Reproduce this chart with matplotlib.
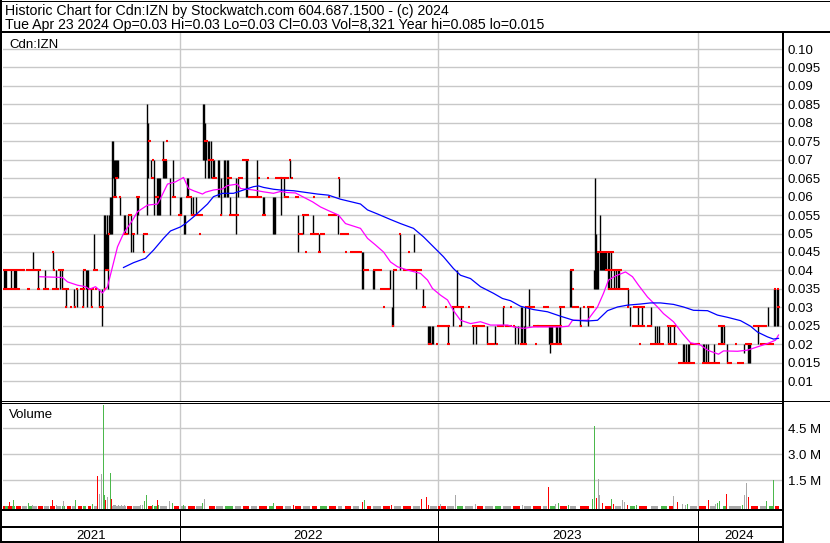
import matplotlib
matplotlib.use("Agg")
import matplotlib.pyplot as plt

plt.rcParams['font.family'] = ['Liberation Sans', 'DejaVu Sans']

# ---------------- data (x = trading-session position, left to right) ----------------
TITLE_1 = "Historic Chart for Cdn:IZN by Stockwatch.com 604.687.1500 - (c) 2024"
TITLE_2 = "Tue Apr 23 2024 Op=0.03 Hi=0.03 Lo=0.03 Cl=0.03 Vol=8,321 Year hi=0.085 lo=0.015"
SYMBOL = "Cdn:IZN"

YEAR_LABELS = ["2021", "2022", "2023", "2024"]
YEAR_BOUNDS = [3, 179, 437, 697, 782]          # session positions of year starts / chart end

PRICE_TICKS = [0.01, 0.015, 0.02, 0.025, 0.03, 0.035, 0.04, 0.045, 0.05, 0.055,
               0.06, 0.065, 0.07, 0.075, 0.08, 0.085, 0.09, 0.095, 0.10]
PRICE_TICK_LABELS = ["0.01", "0.015", "0.02", "0.025", "0.03", "0.035", "0.04", "0.045",
                     "0.05", "0.055", "0.06", "0.065", "0.07", "0.075", "0.08", "0.085",
                     "0.09", "0.095", "0.10"]
VOL_TICKS = [1.5, 3.0, 4.5]
VOL_TICK_LABELS = ["1.5 M", "3.0 M", "4.5 M"]

# daily high-low ranges: (session, low, high)
PRICE_BARS = [
    (3, .035, .04), (4, .035, .04), (5, .035, .04), (10, .035, .04), (13, .035, .04), (14, .035, .04),
    (15, .035, .04), (32, .04, .045), (37, .035, .04), (44, .035, .04), (52, .04, .045), (55, .035, .04),
    (59, .035, .04), (61, .035, .04), (65, .03, .035), (73, .03, .035), (76, .03, .035), (82, .03, .04),
    (85, .035, .04), (86, .03, .04), (87, .035, .04), (90, .03, .035), (93, .04, .05), (98, .03, .035),
    (101, .025, .035), (103, .035, .055), (104, .04, .055), (105, .04, .05), (106, .04, .055),
    (107, .035, .05), (108, .05, .055), (109, .05, .06), (110, .05, .06), (111, .05, .075),
    (112, .065, .075), (113, .06, .07), (114, .06, .07), (115, .065, .07), (116, .065, .07),
    (117, .065, .07), (119, .055, .06), (123, .05, .055), (124, .05, .055), (127, .05, .055),
    (130, .045, .055), (132, .045, .05), (136, .05, .06), (137, .055, .06), (142, .045, .05),
    (146, .055, .085), (147, .065, .08), (150, .065, .07), (153, .055, .07), (156, .055, .065),
    (157, .055, .065), (158, .055, .065), (159, .055, .065), (162, .065, .075), (163, .065, .07),
    (164, .065, .07), (165, .065, .07), (169, .055, .065), (172, .06, .07), (179, .055, .06),
    (180, .055, .06), (183, .05, .055), (184, .05, .055), (186, .06, .065), (187, .06, .065),
    (190, .055, .06), (192, .055, .06), (195, .055, .06), (202, .07, .085), (203, .07, .085),
    (204, .065, .08), (205, .07, .075), (207, .065, .075), (208, .065, .075), (210, .065, .075),
    (212, .065, .07), (213, .065, .07), (217, .06, .07), (218, .06, .07), (220, .055, .065),
    (223, .06, .07), (224, .06, .07), (226, .06, .07), (227, .06, .07), (229, .055, .06),
    (235, .05, .065), (237, .06, .065), (245, .06, .07), (246, .06, .07), (256, .06, .07),
    (262, .055, .06), (263, .055, .06), (272, .05, .06), (273, .05, .06), (274, .05, .06),
    (280, .055, .065), (283, .06, .065), (289, .065, .07), (297, .045, .055), (302, .05, .055),
    (312, .05, .055), (318, .045, .05), (337, .05, .055), (338, .06, .065), (361, .035, .045),
    (362, .035, .045), (372, .035, .04), (373, .035, .04), (389, .035, .04), (391, .025, .03),
    (392, .025, .04), (399, .04, .05), (413, .045, .05), (415, .035, .04), (422, .03, .035),
    (427, .02, .025), (428, .02, .025), (429, .02, .025), (431, .02, .025), (432, .02, .025),
    (447, .02, .025), (452, .025, .03), (456, .03, .04), (460, .025, .03), (472, .02, .025),
    (475, .02, .025), (486, .02, .025), (494, .02, .025), (502, .025, .03), (514, .02, .025),
    (517, .02, .025), (520, .02, .03), (521, .02, .03), (523, .02, .025), (524, .02, .03),
    (528, .025, .035), (548, .02, .025), (549, .0175, .025), (550, .02, .025), (551, .02, .025),
    (555, .02, .025), (556, .02, .025), (558, .02, .025), (559, .02, .03), (569, .03, .04),
    (570, .03, .04), (579, .025, .03), (587, .025, .03), (593, .035, .04), (594, .035, .065),
    (595, .035, .05), (596, .035, .045), (597, .035, .045), (599, .04, .055), (600, .04, .045),
    (601, .04, .045), (602, .04, .045), (603, .04, .045), (604, .04, .045), (605, .04, .045),
    (607, .035, .045), (608, .035, .045), (610, .035, .045), (613, .035, .04), (615, .035, .04),
    (617, .035, .04), (618, .035, .04), (627, .03, .035), (629, .025, .03), (637, .025, .03),
    (641, .025, .03), (650, .025, .03), (654, .02, .025), (656, .02, .025), (658, .02, .025),
    (667, .02, .025), (669, .02, .025), (673, .02, .025), (682, .015, .02), (683, .015, .02),
    (685, .015, .02), (687, .015, .02), (688, .015, .02), (702, .015, .02), (703, .015, .02),
    (705, .015, .02), (707, .015, .02), (713, .015, .02), (720, .02, .025), (721, .02, .025),
    (723, .02, .025), (726, .015, .02), (743, .0175, .02), (747, .015, .02), (748, .015, .02),
    (749, .015, .02), (757, .02, .025), (767, .025, .03), (773, .025, .035), (774, .025, .035),
    (776, .025, .035), (777, .025, .035),
]

# open/close tick runs: (first session, last session, price)
TICK_RUNS = [
    (2, 22, .04), (23, 23, .04), (26, 27, .04), (29, 37, .04), (39, 39, .04), (53, 53, .04), (58, 62, .04),
    (3, 15, .035), (17, 18, .035), (27, 28, .035), (37, 38, .035), (43, 47, .035), (52, 57, .035),
    (62, 67, .035), (76, 76, .035), (80, 83, .035), (88, 92, .035), (95, 95, .035),
    (65, 65, .03), (70, 70, .03), (74, 74, .03), (82, 82, .03), (91, 91, .03), (99, 102, .03),
    (83, 84, .04), (93, 96, .04), (52, 52, .045),
    (105, 107, .04), (104, 104, .035), (108, 108, .05), (113, 115, .06), (119, 119, .06),
    (115, 116, .065), (123, 126, .05), (128, 130, .055), (132, 133, .05), (136, 138, .06),
    (143, 143, .045), (143, 146, .05), (148, 149, .075), (152, 152, .07), (151, 152, .065),
    (155, 157, .06), (166, 166, .075), (162, 165, .07), (172, 174, .06), (178, 180, .055),
    (186, 190, .06), (191, 201, .055), (199, 199, .05), (204, 206, .075), (208, 212, .07),
    (212, 215, .065), (220, 220, .055), (227, 230, .065), (229, 237, .055), (238, 241, .065),
    (242, 247, .07), (248, 253, .06), (255, 260, .06), (258, 258, .065), (262, 264, .055),
    (267, 267, .065), (275, 280, .065),
    (280, 285, .065), (284, 287, .06), (287, 287, .065), (289, 289, .07), (291, 291, .065),
    (295, 297, .06), (298, 301, .05), (302, 307, .055), (305, 305, .045), (310, 317, .05),
    (313, 313, .06), (318, 319, .045), (320, 323, .05), (328, 328, .06), (328, 335, .055),
    (338, 338, .065), (340, 347, .05), (345, 345, .045), (350, 360, .045), (363, 367, .04),
    (373, 378, .04), (380, 388, .035), (380, 380, .04), (383, 383, .03), (392, 392, .025),
    (393, 395, .04), (399, 399, .05), (403, 420, .04), (408, 408, .045), (422, 424, .03),
    (428, 430, .02), (436, 436, .02), (437, 447, .025), (445, 445, .03), (447, 448, .02),
    (448, 448, .025), (452, 462, .03), (459, 459, .025), (468, 468, .03), (472, 483, .025),
    (487, 493, .02), (496, 496, .02), (497, 502, .025), (503, 503, .03), (505, 510, .025),
    (510, 510, .03), (513, 513, .025), (520, 525, .02), (525, 533, .03), (535, 535, .02),
    (533, 537, .025), (543, 547, .03), (537, 560, .025), (557, 560, .02),
    (550, 558, .02), (559, 563, .03), (570, 572, .04), (572, 572, .035), (572, 577, .03),
    (580, 580, .025), (583, 583, .03), (587, 592, .03), (597, 612, .045), (605, 620, .04),
    (608, 627, .035), (627, 627, .03), (632, 643, .025), (633, 643, .03), (639, 639, .02),
    (647, 650, .025), (650, 662, .02), (667, 674, .025), (668, 675, .02), (678, 693, .015),
    (690, 698, .02), (702, 718, .015), (718, 723, .025), (718, 723, .02), (727, 730, .015),
    (735, 735, .02), (737, 742, .015), (745, 750, .02), (753, 765, .025), (760, 772, .02),
    (774, 774, .035), (777, 777, .035), (777, 778, .03),
]

# short moving average (magenta) read at sessions
MA_SHORT_X = [39, 62, 67, 77, 85, 89, 95, 102, 107, 112, 117, 123, 132, 137, 147, 157, 160, 167,
              175, 183, 188, 193, 202, 205, 213, 222, 227, 237, 240, 253, 263, 273, 280, 287,
              295, 302, 312, 320, 328, 338, 345, 360, 367, 375, 383, 390, 397, 407, 420, 427,
              432, 440, 447, 453, 460, 470, 480, 490, 507, 513, 523, 533, 547, 560, 568, 572,
              587, 597, 603, 608, 615, 625, 632, 638, 647, 657, 663, 673, 682, 690, 700, 707,
              718, 723, 737, 747, 757, 767, 775, 778]
MA_SHORT_Y = [.0383, .0381, .0369, .036, .0356, .0349, .0356, .0339, .0356, .041, .0464, .050,
              .0536, .0559, .0577, .058, .0595, .0634, .064, .0652, .0622, .0616, .0607, .0612,
              .0618, .0621, .063, .0634, .0622, .0618, .0613, .0609, .0614, .0611, .061, .060,
              .0586, .0572, .0562, .055, .0527, .0514, .0487, .0469, .045, .0423, .041, .0401,
              .0392, .0374, .0351, .0333, .032, .0291, .0265, .0256, .0261, .0252, .0252, .0247,
              .0243, .0247, .0247, .0247, .0249, .0265, .0265, .0301, .0338, .0374, .0385, .0396,
              .0383, .036, .0328, .0301, .0283, .0261, .0229, .0204, .0198, .0184, .0173, .0182,
              .0181, .0184, .0193, .0202, .0211, .0225]

# long moving average (blue)
MA_LONG_X = [123, 133, 145, 153, 163, 170, 180, 185, 193, 207, 213, 222, 233, 243, 253, 258, 263,
             273, 280, 293, 317, 328, 340, 360, 367, 377, 390, 400, 413, 423, 433, 443, 453, 460,
             470, 480, 493, 502, 510, 520, 533, 547, 560, 573, 587, 597, 607, 617, 627, 640, 650,
             660, 673, 683, 693, 707, 717, 727, 740, 750, 757, 767, 773, 778]
MA_LONG_Y = [.0408, .0421, .0433, .0455, .0487, .0507, .0518, .0527, .0545, .058, .060, .0609,
             .0609, .0618, .0627, .0629, .0625, .062, .0618, .0616, .0607, .0604, .0593, .058,
             .0564, .0553, .0538, .0527, .0514, .0491, .0464, .0437, .0405, .0387, .0378, .0356,
             .0338, .0324, .0318, .0303, .0294, .0288, .0276, .0265, .0263, .0265, .0291, .0301,
             .0306, .0309, .0312, .0312, .0308, .0301, .0292, .0291, .0279, .0273, .0264, .0249,
             .0233, .022, .0214, .0216]

# visible volume bars (millions), colour: g = up, r = down, k = unchanged
VOL_X = [9, 13, 28, 32, 52, 56, 63, 75, 92, 97, 99, 101, 103, 104, 105, 107, 110, 111, 113, 114,
         115, 118, 121, 124, 140, 142, 144, 146, 152, 157, 158, 169, 172, 183, 202, 204, 273, 293,
         362, 364, 391, 421, 426, 428, 440, 455, 475, 522, 548, 555, 558, 568, 592, 594, 596, 598,
         599, 602, 611, 613, 622, 624, 627, 636, 673, 677, 682, 685, 687, 708, 715, 717, 719, 726,
         742, 744, 746, 748, 766, 773]
VOL_M = [.22, .35, .16, .06, .35, .06, .29, .35, .12, 1.74, .68, 1.86, 5.84, .64, .35, .51, 1.90,
         .41, .06, .06, .06, .08, .08, .08, .06, .06, .29, .64, .04, .35, .06, .29, .16, .06, .16,
         .41, .16, .06, .22, .35, .06, .41, .51, .06, .12, .64, .12, .06, 1.12, .12, .19, .06,
         .41, 4.65, .49, 1.55, .64, .19, .41, .12, .35, .23, .06, .06, .58, .25, .12, .06, .12,
         .35, .12, .16, .31, .69, .06, .64, 1.32, .51, .29, 1.51]
VOL_C = ['r', 'g', 'g', 'k', 'r', 'k', 'k', 'g', 'g', 'r', 'k', 'k', 'g', 'g', 'r', 'k', 'g', 'r',
         'k', 'k', 'k', 'k', 'k', 'k', 'k', 'k', 'g', 'g', 'g', 'r', 'g', 'k', 'g', 'g', 'g', 'k',
         'g', 'r', 'r', 'g', 'r', 'r', 'r', 'r', 'k', 'k', 'k', 'k', 'r', 'k', 'g', 'g', 'g', 'g',
         'r', 'k', 'k', 'r', 'g', 'r', 'k', 'k', 'r', 'g', 'k', 'r', 'k', 'k', 'g', 'r', 'k', 'g',
         'g', 'r', 'g', 'k', 'k', 'r', 'g', 'g']

# very small daily volumes (baseline stubs): (first session, last session, colour)
VOL_SMALL_RUNS = [
    (2, 4, 'r'), (5, 7, 'g'), (8, 11, 'r'), (12, 14, 'g'), (16, 20, 'r'), (22, 26, 'k'), (29, 31, 'g'),
    (33, 36, 'k'), (38, 42, 'r'), (44, 48, 'k'), (50, 54, 'r'), (57, 60, 'k'), (62, 64, 'g'),
    (67, 70, 'r'), (72, 74, 'k'), (78, 81, 'r'), (83, 85, 'g'), (88, 90, 'r'), (94, 96, 'k'),
    (112, 125, 'k'), (127, 131, 'r'), (133, 139, 'k'), (148, 151, 'r'), (154, 156, 'g'),
    (160, 166, 'k'), (174, 178, 'r'), (181, 185, 'k'), (188, 194, 'r'), (196, 201, 'k'),
    (209, 214, 'r'), (216, 222, 'k'), (225, 232, 'g'), (235, 240, 'k'), (243, 248, 'r'),
    (251, 256, 'k'), (259, 266, 'r'), (269, 272, 'g'), (276, 282, 'r'), (285, 290, 'k'),
    (295, 300, 'r'), (303, 309, 'k'), (312, 316, 'r'), (320, 326, 'g'), (329, 335, 'r'),
    (338, 341, 'k'), (345, 350, 'r'), (353, 358, 'k'), (367, 370, 'r'), (373, 380, 'k'),
    (383, 389, 'r'), (394, 400, 'k'), (403, 410, 'r'), (413, 419, 'k'), (430, 436, 'k'),
    (438, 445, 'r'), (447, 453, 'k'), (457, 462, 'g'), (465, 472, 'k'), (477, 482, 'r'),
    (485, 492, 'k'), (495, 500, 'g'), (503, 510, 'k'), (513, 519, 'r'), (524, 530, 'k'),
    (533, 540, 'r'), (543, 546, 'k'), (550, 554, 'g'), (560, 566, 'r'), (570, 575, 'k'),
    (580, 588, 'r'), (605, 610, 'r'), (615, 620, 'k'), (630, 634, 'g'), (639, 646, 'r'),
    (651, 657, 'k'), (661, 666, 'g'), (669, 672, 'r'), (690, 696, 'k'), (699, 705, 'r'),
    (710, 714, 'k'), (723, 725, 'g'), (729, 740, 'k'), (751, 757, 'r'), (760, 765, 'k'),
    (769, 772, 'g'), (775, 778, 'r'),
]

# ---------------- styling ----------------
RED, BLACK = '#ff0000', '#000000'
GREEN, GREY = '#4cb84c', '#a8a8a8'
VCOL = {'r': RED, 'g': GREEN, 'k': GREY}
GRID = '#c8c8c8'
FS = 9.5
FS_TITLE = 10.2

W, H = 830, 543
fig = plt.figure(figsize=(W / 100, H / 100), dpi=100)


def px_axes(x0, y0, x1, y1, **kw):
    return fig.add_axes([x0 / W, 1 - y1 / H, (x1 - x0) / W, (y1 - y0) / H], **kw)


PLOT_L, PLOT_R = 3, 782
XLIM = (PLOT_L - 0.5, PLOT_R - 0.5)

# ---- price panel ----
ax = px_axes(PLOT_L, 31, PLOT_R, 400.5)
ax.set_xlim(*XLIM)
ax.set_ylim(0.00476, 0.10488)
for s in ax.spines.values():
    s.set_visible(False)
ax.set_xticks([])
ax.yaxis.tick_right()
ax.set_yticks(PRICE_TICKS)
ax.set_yticklabels(PRICE_TICK_LABELS, fontsize=FS)
ax.tick_params(axis='y', length=0, pad=4)
ax.grid(axis='y', color=GRID, lw=1.0)
for xb in YEAR_BOUNDS[1:-1]:
    ax.axvline(xb, color=GRID, lw=1.0, zorder=0)
ax.set_axisbelow(True)

bx = [b[0] for b in PRICE_BARS]
blo = [b[1] for b in PRICE_BARS]
bhi = [b[2] for b in PRICE_BARS]
ax.vlines(bx, blo, bhi, color=BLACK, lw=1.0, zorder=3)
for x0, x1, p in TICK_RUNS:
    ax.hlines(p, x0 - 1, x1 + 1, color=RED, lw=1.5, zorder=4, capstyle='butt')
ax.plot(MA_SHORT_X, MA_SHORT_Y, color='#ff00ff', lw=0.9, zorder=5)
ax.plot(MA_LONG_X, MA_LONG_Y, color='#0000ff', lw=0.9, zorder=5)

# ---- volume panel ----
VBASE = -0.15
vx = px_axes(PLOT_L, 402.5, PLOT_R, 509.5)
vx.set_xlim(*XLIM)
vx.set_ylim(-0.2, 5.99)
for s in vx.spines.values():
    s.set_visible(False)
vx.set_xticks([])
vx.yaxis.tick_right()
vx.set_yticks(VOL_TICKS)
vx.set_yticklabels(VOL_TICK_LABELS, fontsize=FS)
vx.tick_params(axis='y', length=0, pad=4)
vx.grid(axis='y', color=GRID, lw=1.0)
for xb in YEAR_BOUNDS[1:-1]:
    vx.axvline(xb, color=GRID, lw=1.0, zorder=0)
vx.set_axisbelow(True)
for x0, x1, c in VOL_SMALL_RUNS:
    xs = list(range(x0, x1 + 1))
    vx.bar(xs, [0.02 - VBASE] * len(xs), bottom=VBASE, width=1.0, color=VCOL[c], lw=0, zorder=2)
vx.bar(VOL_X, [v - VBASE for v in VOL_M], bottom=VBASE, width=1.6,
       color=[VCOL[c] for c in VOL_C], lw=0, zorder=3)

# ---- frame, header and labels (pixel overlay) ----
ov = fig.add_axes([0, 0, 1, 1])
ov.set_xlim(0, W)
ov.set_ylim(H, 0)
ov.axis('off')
ov.patch.set_alpha(0)


def hl(y, x0, x1, lw=2.0):
    ov.plot([x0, x1], [y, y], color=BLACK, lw=lw * 0.72, solid_capstyle='butt')


def vl(x, y0, y1, lw=2.0):
    ov.plot([x, x], [y0, y1], color=BLACK, lw=lw * 0.72, solid_capstyle='butt')


hl(0.5, 0, W, 1)              # top of header box
vl(829.5, 0, 32, 1)           # right of header box
vl(1.0, 0, 542.5, 2)          # left frame
hl(32.0, 0, W, 2)             # under header
vl(782.5, 31, 542.5, 2)       # right of plot area
hl(400.5, 0, W, 1)            # price / volume separator (double line)
hl(402.5, 0, PLOT_R, 1)
hl(510.0, 0, PLOT_R + 1, 2)   # bottom of volume
hl(526.8, 0, PLOT_R + 1, 2)   # date band
hl(541.6, 0, PLOT_R + 1, 2)   # bottom frame
for xb in YEAR_BOUNDS[1:-1]:
    vl(xb + 0.5, 510, 541.6, 1)

ov.text(5, 14.5, TITLE_1, fontsize=FS_TITLE, va='baseline', ha='left')
ov.text(5, 28.8, TITLE_2, fontsize=FS_TITLE, va='baseline', ha='left')
ov.text(9, 48.5, SYMBOL, fontsize=FS, va='baseline', ha='left')
ov.text(9, 417.5, "Volume", fontsize=FS, va='baseline', ha='left')
for i, lab in enumerate(YEAR_LABELS):
    xm = (YEAR_BOUNDS[i] + YEAR_BOUNDS[i + 1]) / 2
    ov.text(xm, 539.0, lab, fontsize=FS, va='baseline', ha='center')

fig.savefig("out.png", dpi=100)
